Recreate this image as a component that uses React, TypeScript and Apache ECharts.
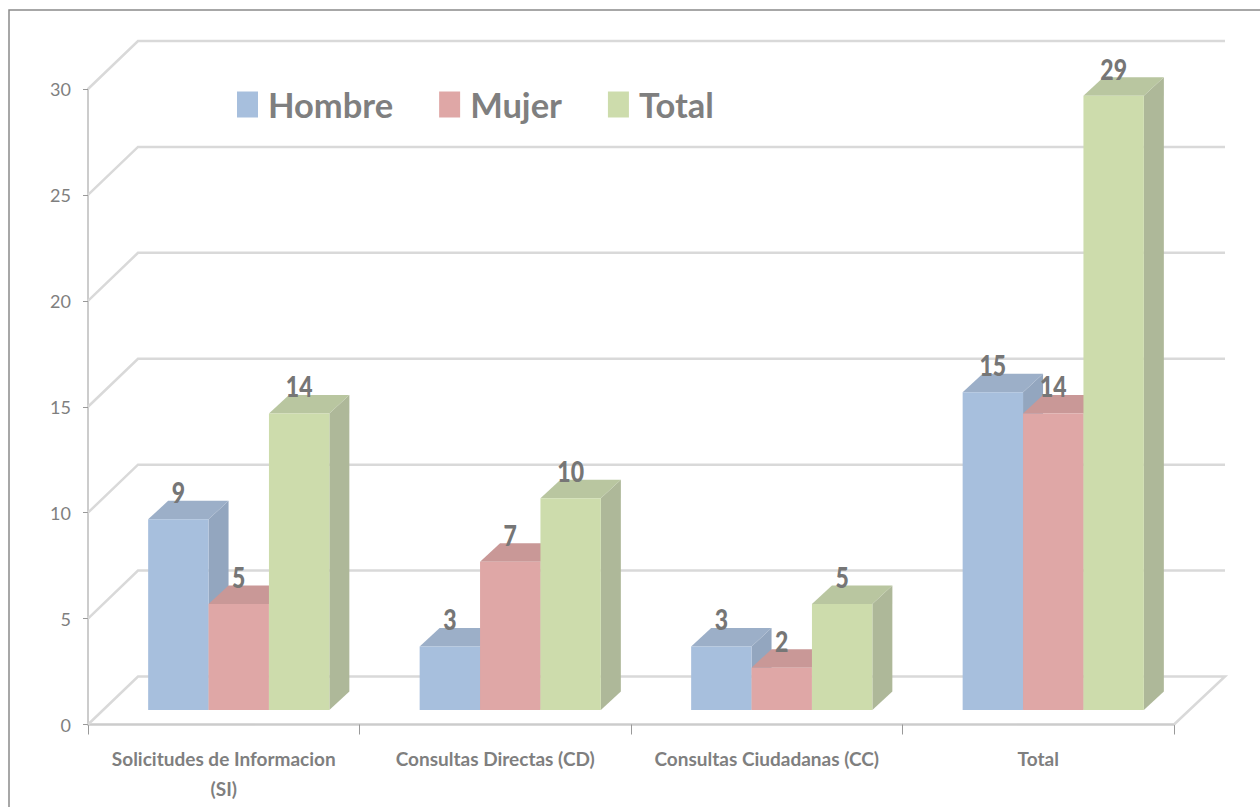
import React, { useEffect, useRef } from "react";
import * as echarts from "echarts";

const categories = ["Solicitudes de Informacion\n(SI)", "Consultas Directas (CD)", "Consultas Ciudadanas (CC)", "Total"];
const hombre = [9, 3, 3, 15];
const mujer = [5, 7, 2, 14];
const total = [14, 10, 5, 29];
const wallTicks = [0, 5, 10, 15, 20, 25, 30];

const DEPTH_X = 50, DEPTH_Y = 48, BAR_W = 60.4, BAR_DX = 20, BAR_DY = 18.5, LIFT = 14.5, SHIFT = 15;
const TEXT = "#7f7f7f";
const FONT = "Lato";

function barSeries(name: string, data: number[], idx: number, front: string, top: string, side: string) {
  return {
    name,
    type: "custom",
    z: 5,
    encode: { x: 0, y: 1 },
    itemStyle: { color: front },
    data: data.map((v, i) => [i, v]),
    renderItem: (_p: any, api: any) => {
      const c = api.value(0), v = api.value(1);
      const [cx, y0] = api.coord([c, 0]);
      const [, yv] = api.coord([c, v]);
      const x = cx + SHIFT - (3 * BAR_W) / 2 + idx * BAR_W;
      const b = y0 - LIFT, t = yv - LIFT, r = x + BAR_W;
      return {
        type: "group",
        children: [
          { type: "polygon", shape: { points: [[r, t], [r + BAR_DX, t - BAR_DY], [r + BAR_DX, b - BAR_DY], [r, b]] }, style: { fill: side } },
          { type: "polygon", shape: { points: [[x, t], [r, t], [r + BAR_DX, t - BAR_DY], [x + BAR_DX, t - BAR_DY]] }, style: { fill: top } },
          { type: "rect", shape: { x, y: t, width: BAR_W, height: b - t }, style: { fill: front } },
        ],
      };
    },
  };
}

function labelSeries(name: string, data: number[], idx: number) {
  return {
    name: name + " etiqueta",
    type: "custom",
    z: 8,
    encode: { x: 0, y: 1 },
    data: data.map((v, i) => [i, v]),
    renderItem: (_p: any, api: any) => {
      const c = api.value(0), v = api.value(1);
      const [cx] = api.coord([c, 0]);
      const [, yv] = api.coord([c, v]);
      const x = cx + SHIFT - BAR_W + idx * BAR_W;
      return {
        type: "text",
        x,
        y: yv - LIFT - 27,
        scaleY: 1.22,
        style: { text: String(v), fill: "#767676", font: `900 23px ${FONT}`, align: "center", verticalAlign: "middle" },
      };
    },
  };
}

export default function App() {
  const ref = useRef<HTMLDivElement>(null);
  useEffect(() => {
    const chart = echarts.init(ref.current!, undefined, { renderer: "svg" });
    chart.setOption({
      animation: false,
      backgroundColor: "#ffffff",
      graphic: [
        { type: "rect", z: 0, shape: { x: 9, y: 10, width: 1400, height: 1000 }, style: { fill: "none", stroke: "#8a8a8a", lineWidth: 1.5 } },
      ],
      legend: {
        left: 232,
        top: 82,
        itemWidth: 21,
        itemHeight: 26,
        itemGap: 46,
        icon: "rect",
        data: ["Hombre", "Mujer", "Total"],
        textStyle: { color: TEXT, fontFamily: FONT, fontWeight: 700, fontSize: 34.5, padding: [0, 0, 2, 5] },
      },
      grid: { left: 88, right: 86, top: 89, bottom: 82.5 },
      xAxis: {
        type: "category",
        data: categories,
        boundaryGap: true,
        axisLine: { lineStyle: { color: "#cccccc", width: 2.5 } },
        axisTick: { show: true, alignWithLabel: false, length: 10, lineStyle: { color: "#999999", width: 1 } },
        axisLabel: { color: TEXT, fontFamily: FONT, fontWeight: 700, fontSize: 19, lineHeight: 30, margin: 19, interval: 0 },
      },
      yAxis: {
        type: "value",
        min: 0,
        max: 30,
        interval: 5,
        axisLine: { show: true, lineStyle: { color: "#cccccc", width: 2 } },
        axisTick: { show: true, length: 5, lineStyle: { color: "#999999", width: 1 } },
        axisLabel: { color: TEXT, fontFamily: FONT, fontSize: 18, margin: 17, lineHeight: 18, padding: [6, 0, 0, 0], verticalAlign: "middle" },
        splitLine: { show: false },
      },
      series: [
        {
          name: "pared",
          type: "custom",
          z: 1,
          silent: true,
          encode: { y: 0 },
          data: wallTicks.map((v) => [v]),
          renderItem: (p: any, api: any) => {
            const v = api.value(0);
            const [, y] = api.coord([0, v]);
            const L = p.coordSys.x, R = L + p.coordSys.width;
            const pts = [[L, y], [L + DEPTH_X, y - DEPTH_Y], [R + DEPTH_X + 1, y - DEPTH_Y]];
            if (v === 0) pts.push([R, y]);
            return { type: "polyline", shape: { points: pts }, style: { fill: "none", stroke: "#d9d9d9", lineWidth: 2.5 } };
          },
        },
        barSeries("Hombre", hombre, 0, "#a7bfdd", "#9cafc8", "#93a6bf"),
        barSeries("Mujer", mujer, 1, "#dfa7a6", "#c99897", "#bf9190"),
        barSeries("Total", total, 2, "#cddcac", "#b9c6a0", "#aeb899"),
        labelSeries("Hombre", hombre, 0),
        labelSeries("Mujer", mujer, 1),
        labelSeries("Total", total, 2),
      ],
    });
    return () => chart.dispose();
  }, []);
  return <div ref={ref} style={{ position: "absolute", left: 0, top: 0, width: 1260, height: 807 }} />;
}
